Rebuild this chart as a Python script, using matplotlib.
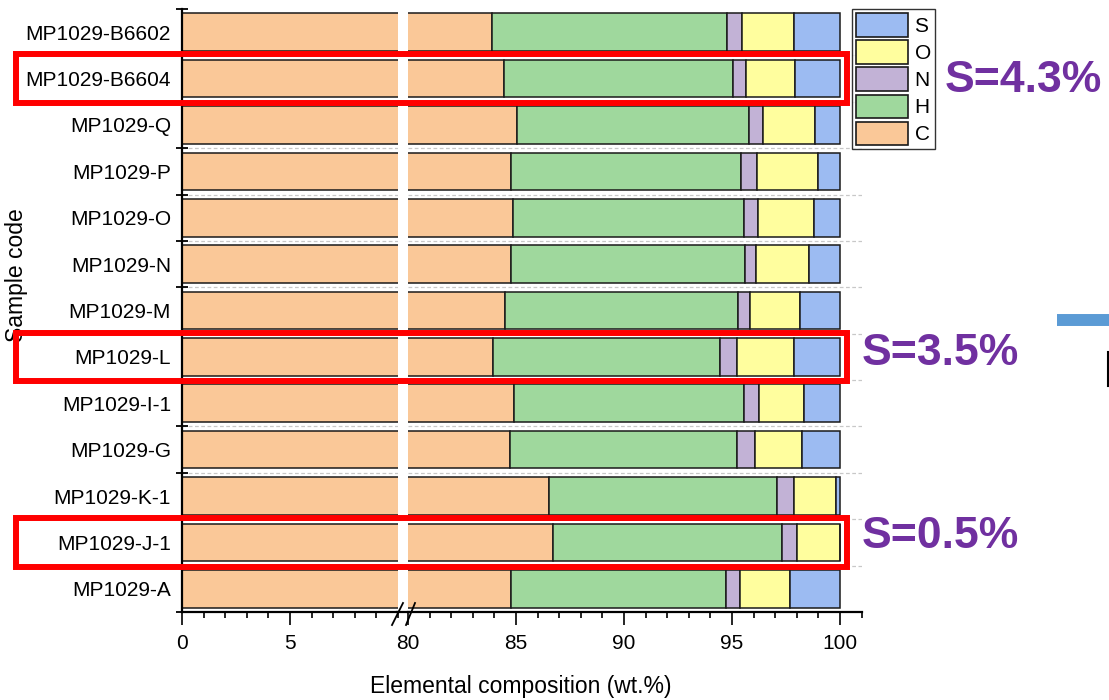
import matplotlib
matplotlib.use("Agg")
import matplotlib.pyplot as plt
from matplotlib.patches import Patch, Rectangle
from matplotlib.lines import Line2D
from matplotlib.transforms import blended_transform_factory
from matplotlib.ticker import MultipleLocator, FixedLocator

plt.rcParams['font.family'] = ['Liberation Sans', 'DejaVu Sans']

# ---- data (top to bottom) ----
samples = ["MP1029-B6602", "MP1029-B6604", "MP1029-Q", "MP1029-P", "MP1029-O",
           "MP1029-N", "MP1029-M", "MP1029-L", "MP1029-I-1", "MP1029-G",
           "MP1029-K-1", "MP1029-J-1", "MP1029-A"]
C = [83.90, 84.46, 85.05, 84.77, 84.88, 84.78, 84.49, 83.92, 84.89, 84.74, 86.53, 86.71, 84.75]
H = [10.85, 10.57, 10.75, 10.66, 10.68, 10.84, 10.79, 10.54, 10.67, 10.51, 10.54, 10.62, 9.96]
N = [0.71, 0.63, 0.62, 0.71, 0.66, 0.51, 0.54, 0.79, 0.67, 0.83, 0.79, 0.66, 0.66]
O = [2.42, 2.27, 2.42, 2.84, 2.58, 2.45, 2.33, 2.63, 2.09, 2.15, 1.95, 2.01, 2.32]
S = [2.12, 2.07, 1.16, 1.02, 1.20, 1.42, 1.85, 2.12, 1.68, 1.77, 0.19, 0.02, 2.31]
elements = ["C", "H", "N", "O", "S"]
colors = {"C": "#FAC898", "H": "#9FD89D", "N": "#C2B2D6", "O": "#FFFE9E", "S": "#9CBBF2"}
highlight_rows = ["MP1029-B6604", "MP1029-L", "MP1029-J-1"]
highlight_text = ["S=4.3%", "S=3.5%", "S=0.5%"]
left_ticks = [0, 5]
right_ticks = [80, 85, 90, 95, 100]
xlabel = "Elemental composition (wt.%)"
ylabel = "Sample code"

W, Hh = 1109, 700
fig = plt.figure(figsize=(W / 100, Hh / 100), dpi=100)

def fx(px):
    return px / W

def fy(py):
    return 1 - py / Hh

y0, y1 = fy(612), fy(9)
axL = fig.add_axes([fx(182), y0, fx(398) - fx(182), y1 - y0])
axR = fig.add_axes([fx(408), y0, fx(861.6) - fx(408), y1 - y0])

n = len(samples)
ypos = list(range(n))
series = {"C": C, "H": H, "N": N, "O": O, "S": S}
for ax in (axL, axR):
    left = [0.0] * n
    for el in elements:
        vals = series[el]
        ax.barh(ypos, vals, left=left, height=0.81, color=colors[el],
                edgecolor="#1a1a1a", linewidth=1.1, zorder=2)
        left = [a + b for a, b in zip(left, vals)]
    ax.set_ylim(n - 0.5, -0.5)
    ax.yaxis.set_minor_locator(FixedLocator([i - 0.5 for i in range(n + 1)]))
    xmin, xmax = ax.get_xlim()
    ax.hlines([i + 0.5 for i in range(n - 1)], 0, 1, transform=ax.get_yaxis_transform(),
              colors="#c8c8c8", linestyles=[(0, (3, 2))], linewidth=0.9, zorder=0)
    for s in ("top", "right"):
        ax.spines[s].set_visible(False)
    ax.spines["bottom"].set_linewidth(1.6)
    ax.spines["left"].set_linewidth(1.6)
    ax.xaxis.set_minor_locator(MultipleLocator(1))
    ax.tick_params(axis="x", which="major", direction="out", length=9, width=1.2, labelsize=15, pad=7)
    ax.tick_params(axis="x", which="minor", direction="out", length=4.5, width=1.2)

axL.set_xlim(0, 10)
axL.set_xticks(left_ticks)
axR.set_xlim(80, 101)
axR.set_xticks(right_ticks)

axL.set_yticks(ypos)
axL.set_yticklabels(samples, fontsize=15)
axL.tick_params(axis="y", which="major", length=0, pad=8)
axL.tick_params(axis="y", which="minor", direction="inout", length=8, width=1.3)
axR.spines["left"].set_visible(False)
axR.tick_params(axis="y", which="both", left=False, labelleft=False)

# axis line through the break gap
fig.add_artist(Line2D([fx(397), fx(409)], [y0, y0], color="black", lw=1.6))
# break marks
for (xa, xb) in ((392, 403), (406, 415)):
    fig.add_artist(Line2D([fx(xa), fx(xb)], [fy(625), fy(603)], color="black", lw=1.3))

fig.text(fx(521), fy(686), xlabel, ha="center", va="center", fontsize=16.5)
fig.text(fx(17), fy(275), ylabel, ha="center", va="center", rotation=90, fontsize=16.5)

# legend
handles = [Patch(facecolor=colors[e], edgecolor="#1a1a1a", linewidth=1.2, label=e)
           for e in ["S", "O", "N", "H", "C"]]
leg = fig.legend(handles=handles, loc="upper left", bbox_to_anchor=(fx(852), fy(9)),
                 fontsize=15, frameon=True, fancybox=False, shadow=False,
                 handlelength=2.5, handleheight=1.35, labelspacing=0.18,
                 borderpad=0.2, handletextpad=0.3, borderaxespad=0)
leg.get_frame().set_edgecolor("black")
leg.get_frame().set_linewidth(1.0)

# highlight boxes and annotations
trans = blended_transform_factory(fig.transFigure, axL.transData)
text_pos = [(945, 81), (862, 353), (862, 536)]
for name, txt, (tx, ty) in zip(highlight_rows, highlight_text, text_pos):
    i = samples.index(name)
    fig.add_artist(Rectangle((fx(16), i + 0.52), fx(847) - fx(16), -1.04,
                             transform=trans, fill=False, edgecolor="#FF0000",
                             linewidth=4.3, zorder=10))
    fig.text(fx(tx), fy(ty), txt, ha="left", va="center", fontsize=32,
             fontweight="bold", color="#7030A0")

# cropped neighbour elements at the right edge
fig.add_artist(Line2D([fx(1057), fx(1109)], [fy(320), fy(320)], color="#5B9BD5", lw=8.6, solid_capstyle="butt"))
fig.add_artist(Line2D([fx(1107.5), fx(1107.5)], [fy(352), fy(386)], color="black", lw=1.5))

fig.savefig("out.png", dpi=100)
